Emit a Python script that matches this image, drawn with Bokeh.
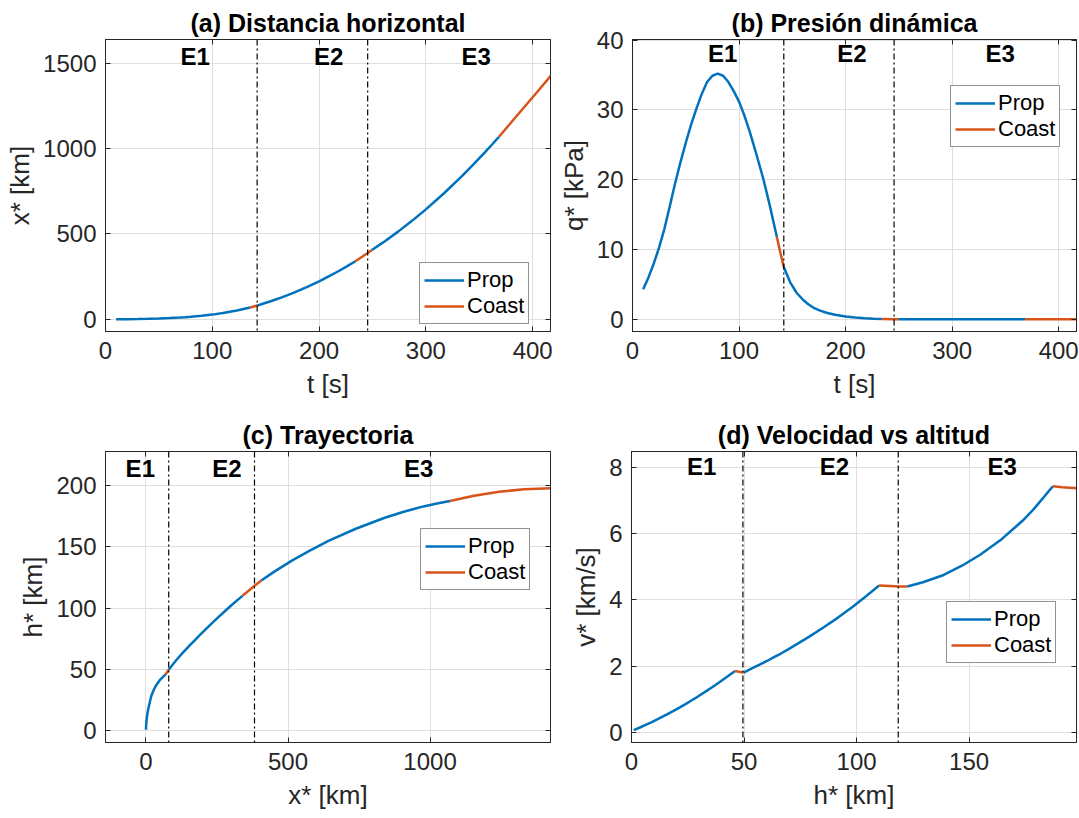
import numpy as np
from bokeh.plotting import figure
from bokeh.layouts import column, row
from bokeh.models import Range1d, Span, FixedTicker, LinearAxis
from bokeh.core.properties import value
from bokeh.embed import file_html
from bokeh.resources import INLINE

# ---------------- data ----------------
# trajectory samples (time, horizontal distance, altitude, speed)
T_S = [10, 20, 30, 40, 50, 60, 70, 75, 80, 85, 90, 100, 110, 123, 135.5,
       142, 148, 154, 160, 165, 170, 176, 183, 190, 200, 209, 218, 226, 234,
       245.5, 249.4,
       260, 274, 287, 300, 317, 334, 345, 355, 362, 368.5,
       380, 392, 404, 417]
X_KM = [0, 0.3, 1, 2.2, 4, 6.5, 9.5, 11.5, 14, 17, 20, 27, 36, 51, 69,
        80, 92.2, 104.2, 117, 128.2, 140, 154.9, 173.3, 192.7, 222.4, 251,
        281.3, 309.8, 339.7,
        388, 406,
        450.4, 513.6, 576.7, 644, 738.6, 840.5, 910.4, 976.5, 1024.5, 1070,
        1154.6, 1243, 1331, 1427]
H_KM = [1, 3.5, 6, 8.8, 12.5, 16, 19.5, 21.5, 24, 27.0, 29.3, 33.2, 37.3,
        42.0, 46.0,
        49.8, 53.5, 56.9, 60.4, 63.3, 66.2, 69.8, 74.2, 78.8, 85.6, 91.9,
        98.3, 104.2, 110.0,
        119.3, 122.5,
        129.5, 138.7, 146.8, 154.9, 164.6, 173.6, 178.7, 182.8, 185.1, 187.2,
        191.4, 194.7, 196.8, 197.6]
V_KMS = [0.063, 0.136, 0.212, 0.301, 0.424, 0.547, 0.676, 0.753, 0.851,
         0.973, 1.07, 1.241, 1.427, 1.652, 1.85,
         1.80, 1.93, 2.04, 2.16, 2.27, 2.37, 2.51, 2.69, 2.88, 3.18, 3.47,
         3.79, 4.11, 4.43,
         4.405, 4.40,
         4.53, 4.75, 5.03, 5.36, 5.84, 6.38, 6.74, 7.07, 7.26, 7.43,
         7.40, 7.385, 7.375, 7.37]

# dynamic pressure samples
Q_T_S = [10, 15, 20, 25, 30, 35, 40, 45, 50, 55, 60, 65, 70, 75, 80, 85, 90,
         95, 100, 105, 110, 116, 123, 129, 135.5, 139, 142, 148, 154, 160,
         165, 170, 176, 183, 190, 200, 209, 218, 226, 234, 245.5, 249.4, 300,
         368.5, 417]
Q_KPA = [4.3, 6.0, 8.0, 10.3, 13.0, 16.2, 19.5, 22.5, 25.3, 27.9, 30.2, 32.3,
         34.0, 34.9, 35.2, 34.9, 34.0, 32.7, 31.2, 29.2, 26.9, 23.8, 20.0,
         16.2, 11.8, 9.4, 7.5, 5.3, 3.8, 2.8, 2.15, 1.65, 1.25, 0.9, 0.65,
         0.4, 0.25, 0.15, 0.09, 0.05, 0.02, 0.015, 0.0, 0.0, 0.0]

PROP_T = [(10, 135.5), (142, 234), (249.4, 368.5)]
COAST_T = [(135.5, 142), (234, 249.4), (368.5, 417)]

STAGE_T = [142, 245.5]
STAGE_X = [80, 382]
STAGE_H = [49.5, 118.5]
STAGE_NAMES = ["E1", "E2", "E3"]

LBL_A_T = [84, 209, 347]
LBL_A_Y = 1542
LBL_B_T = [84.6, 206, 345]
LBL_B_Y = 38.1
LBL_C_X = [-20, 285, 960]
LBL_C_Y = 214
LBL_D_H = [31.2, 90.2, 164.7]
LBL_D_Y = 8.03

BLUE = "#0072BD"
ORANGE = "#D95319"
AX = "#262626"
FONT = "Liberation Sans"


def segments(ts, xs, ys, intervals):
    t = np.array(ts, dtype=float)
    xs = np.array(xs, dtype=float)
    ys = np.array(ys, dtype=float)
    out_x, out_y = [], []
    for a, b in intervals:
        m = (t >= a) & (t <= b)
        out_x.append(list(xs[m]))
        out_y.append(list(ys[m]))
    return out_x, out_y


def make_fig(title, w, h, mbl, mbr, mbt, mbb, xr, yr, xticks, yticks,
             xlabel, ylabel):
    p = figure(width=w, height=h, x_range=Range1d(*xr), y_range=Range1d(*yr),
               output_backend="svg", toolbar_location=None,
               min_border_left=mbl, min_border_right=mbr,
               min_border_top=mbt, min_border_bottom=mbb)
    p.background_fill_color = "white"
    p.border_fill_color = "white"
    p.outline_line_color = AX
    p.outline_line_width = 1
    p.title.text = title
    p.title.align = "center"
    p.title.text_font = FONT
    p.title.text_font_size = "25px"
    p.title.text_font_style = "bold"
    p.title.text_color = "black"
    p.title.standoff = 5
    for ax, ticks, lab in ((p.xaxis[0], xticks, xlabel), (p.yaxis[0], yticks, ylabel)):
        ax.ticker = FixedTicker(ticks=ticks)
        ax.axis_label = lab
        ax.axis_label_text_font = FONT
        ax.axis_label_text_font_size = "26px"
        ax.axis_label_text_font_style = "normal"
        ax.axis_label_text_color = AX
        ax.major_label_text_font = FONT
        ax.major_label_text_font_size = "24px"
        ax.major_label_text_color = AX
        ax.axis_line_color = AX
        ax.major_tick_line_color = AX
        ax.major_tick_in = 5
        ax.major_tick_out = 0
        ax.minor_tick_line_color = None
    p.xaxis[0].major_label_standoff = 10
    p.xaxis[0].axis_label_standoff = 7
    p.yaxis[0].major_label_standoff = 9
    p.yaxis[0].axis_label_standoff = 5
    for loc, ticks in (("above", xticks), ("right", yticks)):
        ax = LinearAxis(ticker=FixedTicker(ticks=ticks))
        ax.major_label_text_font_size = "1px"
        ax.major_label_text_alpha = 0
        ax.major_label_standoff = 0
        ax.axis_line_color = AX
        ax.major_tick_line_color = AX
        ax.major_tick_in = 5
        ax.major_tick_out = 0
        ax.minor_tick_line_color = None
        p.add_layout(ax, loc)
    p.xgrid.grid_line_color = "#dedede"
    p.ygrid.grid_line_color = "#dedede"
    p.xgrid.ticker = FixedTicker(ticks=xticks)
    p.ygrid.ticker = FixedTicker(ticks=yticks)
    return p


def add_series(p, ts, xs, ys, stage_locs, lbl_x, lbl_y, legend_loc):
    px, py = segments(ts, xs, ys, PROP_T)
    cx, cy = segments(ts, xs, ys, COAST_T)
    p.multi_line(px, py, line_color=BLUE, line_width=2.5, legend_label="Prop")
    p.multi_line(cx, cy, line_color=ORANGE, line_width=2.5, legend_label="Coast")
    for loc in stage_locs:
        p.add_layout(Span(location=loc, dimension="height", line_color="black",
                          line_width=1.2, line_dash="6 3 2 3"))
    p.text(x=lbl_x, y=[lbl_y] * len(lbl_x), text=STAGE_NAMES,
           text_font=value(FONT), text_font_style="bold",
           text_font_size="24px", text_align="center",
           text_baseline="middle", text_color="black")
    lg = p.legend[0]
    lg.location = legend_loc
    lg.border_line_color = AX
    lg.border_line_width = 1
    lg.background_fill_color = "white"
    lg.background_fill_alpha = 1
    lg.label_text_font = FONT
    lg.label_text_font_size = "22px"
    lg.label_text_color = "black"
    lg.label_height = 26
    lg.glyph_height = 26
    lg.glyph_width = 40
    lg.label_standoff = 3
    lg.padding = 4
    lg.spacing = 0
    lg.margin = 0


pa = make_fig("(a) Distancia horizontal", 555, 409, 105, 5, 39, 78,
              (0, 416.7), (-72, 1640), [0, 100, 200, 300, 400],
              [0, 500, 1000, 1500], "t [s]", "x* [km]")
add_series(pa, T_S, T_S, X_KM, STAGE_T, LBL_A_T, LBL_A_Y, (314, 7))

pb = make_fig("(b) Presión dinámica", 524, 409, 76, 3, 39, 78,
              (0, 416.7), (-1.75, 40.1), [0, 100, 200, 300, 400],
              [0, 10, 20, 30, 40], "t [s]", "q* [kPa]")
add_series(pb, Q_T_S, Q_T_S, Q_KPA, STAGE_T, LBL_B_T, LBL_B_Y, (318, 184))

pc = make_fig("(c) Trayectoria", 555, 409, 105, 5, 42, 76,
              (-142.5, 1424), (-9.4, 227.5), [0, 500, 1000],
              [0, 50, 100, 150, 200], "x* [km]", "h* [km]")
add_series(pc, T_S, X_KM, H_KM, STAGE_X, LBL_C_X, LBL_C_Y, (315, 152))

pd = make_fig("(d) Velocidad vs altitud", 524, 409, 76, 3, 42, 76,
              (0, 197.7), (-0.31, 8.48), [0, 50, 100, 150],
              [0, 2, 4, 6, 8], "h* [km]", "v* [km/s]")
add_series(pd, T_S, H_KM, V_KMS, STAGE_H, LBL_D_H, LBL_D_Y, (315, 79))

layout = column(row(pa, pb), row(pc, pd))
open("out.html", "w").write(file_html(layout, INLINE))
